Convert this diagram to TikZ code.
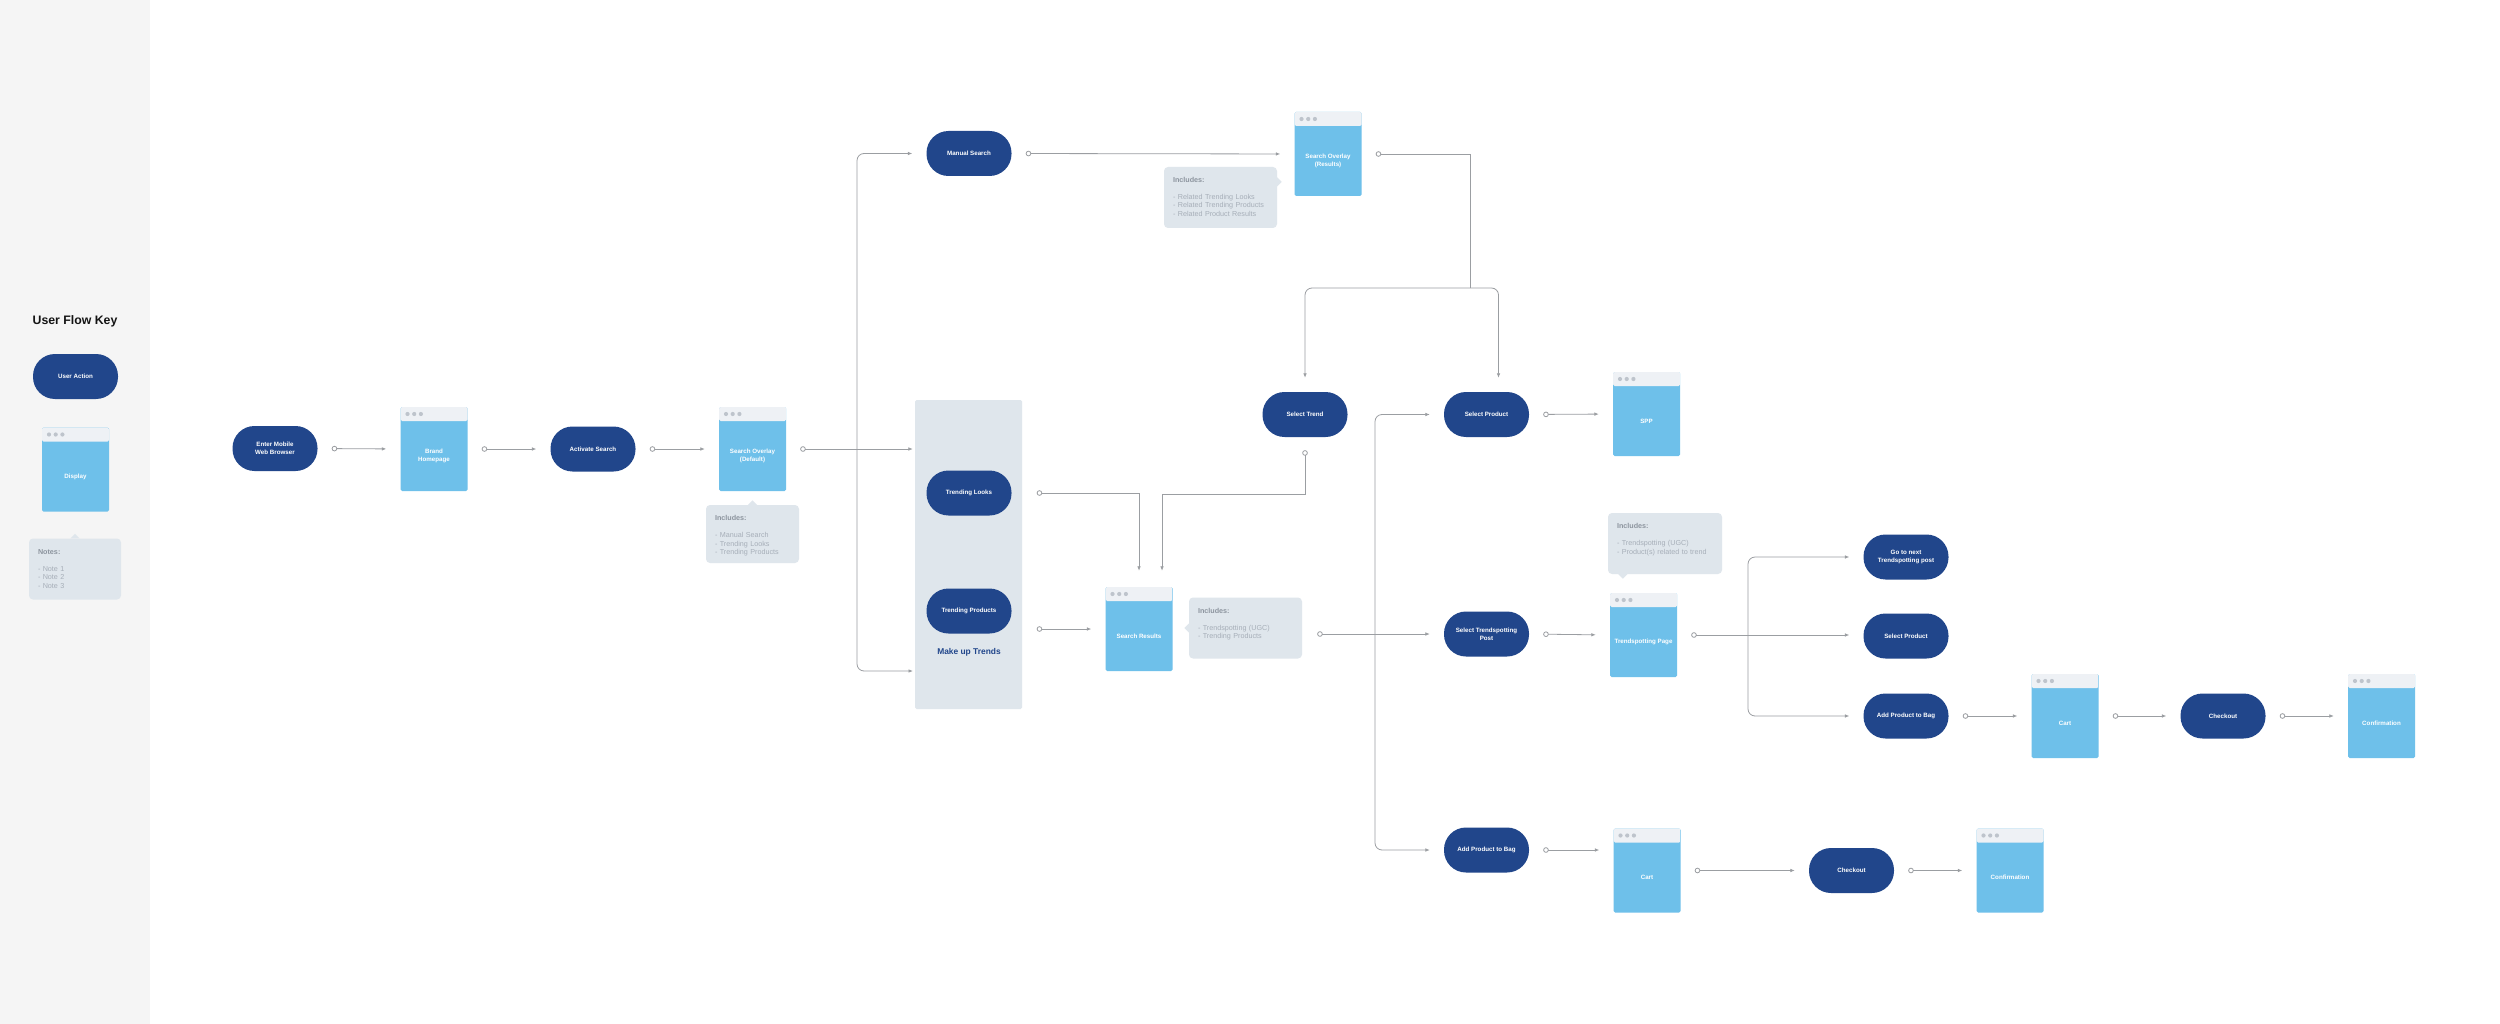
\documentclass[tikz,border=0pt]{standalone}
\usepackage{fontspec}
\setmainfont{Liberation Sans}
\usetikzlibrary{arrows.meta, positioning, calc}
\definecolor{actionblue}{RGB}{33,70,139}
\definecolor{screenblue}{RGB}{110,192,234}
\definecolor{barfill}{RGB}{238,241,245}
\definecolor{dotgray}{RGB}{190,196,204}
\definecolor{notefill}{RGB}{223,230,236}
\definecolor{notetext}{RGB}{166,174,184}
\definecolor{notehead}{RGB}{140,148,158}
\definecolor{wiregray}{RGB}{155,158,162}
\definecolor{keygray}{RGB}{245,245,245}
\definecolor{titleblack}{RGB}{20,20,20}

\begin{document}
\begin{tikzpicture}[x=1pt, y=-1pt,
    action/.style={rectangle, rounded corners=22pt, fill=actionblue, text=white, minimum width=85pt, minimum height=45pt, inner sep=2pt, align=center, font={\fontsize{6.2}{8}\selectfont\bfseries}},
    screen/.style={rectangle, rounded corners=1.5pt, fill=screenblue, minimum width=67pt, minimum height=84pt, inner sep=0pt,
        path picture={\fill[barfill] (path picture bounding box.north west) rectangle ([yshift=-14pt]path picture bounding box.north east);
            \foreach \dx in {7pt,13.7pt,20.4pt} \fill[dotgray] ([xshift=\dx, yshift=-7pt]path picture bounding box.north west) circle[radius=2.1pt];},
        label={[screentext]center:{#1}}},
    screentext/.style={text=white, align=center, yshift=-7pt, inner sep=0pt, font={\fontsize{6.2}{8}\selectfont\bfseries}},
    notebox/.style={rectangle, rounded corners=4pt, fill=notefill, text=notetext, align=left, inner xsep=9pt, inner ysep=4.5pt, text height=11pt, text depth=41pt, font={\fontsize{7.2}{8.5}\selectfont}},
    panel/.style={rectangle, rounded corners=1.5pt, fill=notefill, minimum width=107pt, minimum height=309pt},
    wire/.style={draw=wiregray, line width=0.8pt},
    flow/.style={wire, {Circle[open, length=5.5pt, width=5.5pt]}-{Latex[length=4.5pt, width=3.6pt]}, shorten <=14pt, shorten >=14pt},
    branch/.style={wire, -{Latex[length=4.5pt, width=3.6pt]}, rounded corners=7pt, shorten >=14pt}
]
\fill[white] (0,0) rectangle (2500,1024);
\fill[keygray] (0,0) rectangle (150,1024);
\useasboundingbox (0,0) rectangle (2500,1024);

% key
\node[font={\fontsize{12.3}{14}\selectfont\bfseries}, text=titleblack] (keytitle) at (75,321) {User Flow Key};
\node[action] (keyaction) at (75.5,376.5) {User Action};
\node[screen=Display] (keyscreen) at (75.5,469.5) {};
\node[notebox, text width=74pt] (keynote) at (75,569) {{\color{notehead}\textbf{Notes:}}\\[8.5pt]- Note 1\\- Note 2\\- Note 3};
\fill[notefill] ([xshift=-4.5pt]keynote.north) -- ([yshift=4.5pt]keynote.north) -- ([xshift=4.5pt]keynote.north) -- cycle;

% entry and search
\node[action] (enter) at (275,448.5) {Enter Mobile\\Web Browser};
\node[screen={Brand\\Homepage}] (brand) at (434,449) {};
\node[action] (activate) at (593,449) {Activate Search};
\node[screen={Search Overlay\\(Default)}] (sodefault) at (752.5,449) {};
\node[notebox, text width=75pt, text depth=38pt] (sdnote) at (752.5,534) {{\color{notehead}\textbf{Includes:}}\\[8.5pt]- Manual Search\\- Trending Looks\\- Trending Products};
\fill[notefill] ([xshift=-4.5pt]sdnote.north) -- ([yshift=4.5pt]sdnote.north) -- ([xshift=4.5pt]sdnote.north) -- cycle;

% make up trends
\node[panel] (trends) at (968.5,554.5) {};
\node[action] (manual) at (969,153.5) {Manual Search};
\node[action] (tlooks) at (969,493) {Trending Looks};
\node[action] (tproducts) at (969,611) {Trending Products};
\node[font={\fontsize{8.4}{10}\selectfont\bfseries}, text=actionblue] (trendslabel) at (969,652) {Make up Trends};

\node[screen={Search Overlay\\(Results)}] (soresults) at (1328,154) {};
\node[notebox, text width=95pt] (srnote) at (1220.5,197.5) {{\color{notehead}\textbf{Includes:}}\\[8.5pt]- Related Trending Looks\\- Related Trending Products\\- Related Product Results};
\fill[notefill] ([yshift=-10.5pt]srnote.north east) -- ([xshift=4.5pt, yshift=-15pt]srnote.north east) -- ([yshift=-19.5pt]srnote.north east) -- cycle;

\node[screen={Search Results}] (sresults) at (1139,629) {};
\node[notebox, text width=95pt] (resnote) at (1245.5,628) {{\color{notehead}\textbf{Includes:}}\\[8.5pt]- Trendspotting (UGC)\\- Trending Products};
\fill[notefill] ([yshift=4.5pt]resnote.west) -- ([xshift=-4.5pt]resnote.west) -- ([yshift=-4.5pt]resnote.west) -- cycle;

% selection
\node[action] (seltrend) at (1305,414.5) {Select Trend};
\node[action] (selprod) at (1486.5,414.5) {Select Product};
\node[screen=SPP] (spp) at (1646.5,414) {};
\node[action] (selpost) at (1486.5,634) {Select Trendspotting\\Post};
\node[screen={Trendspotting Page}] (tpage) at (1643.5,635) {};
\node[notebox, text width=96pt] (tpnote) at (1665,543.5) {{\color{notehead}\textbf{Includes:}}\\[8.5pt]- Trendspotting (UGC)\\- Product(s) related to trend};
\fill[notefill] ([xshift=10.5pt]tpnote.south west) -- ([xshift=15pt, yshift=-4.5pt]tpnote.south west) -- ([xshift=19.5pt]tpnote.south west) -- cycle;

\node[action] (nextpost) at (1906,557) {Go to next\\Trendspotting post};
\node[action] (selprod2) at (1906,636) {Select Product};
\node[action] (addbag2) at (1906,716) {Add Product to Bag};
\node[screen=Cart] (cart2) at (2065,716) {};
\node[action] (checkout2) at (2223,716) {Checkout};
\node[screen=Confirmation] (confirm2) at (2381.5,716) {};

\node[action] (addbag) at (1486.5,850) {Add Product to Bag};
\node[screen=Cart] (cart) at (1647,870.5) {};
\node[action] (checkout) at (1851.5,870.5) {Checkout};
\node[screen=Confirmation] (confirm) at (2010,870.5) {};

% connectors
\draw[flow] (enter.east) -- (brand.west);
\draw[flow] (brand.east) -- (activate.west);
\draw[flow] (activate.east) -- (sodefault.west);
\draw[flow, shorten >=2pt] (sodefault.east) -- (sodefault.east -| trends.west);
\coordinate (fork1) at (857,449);
\coordinate (trendsin) at (915,671);
\draw[branch] (fork1) |- (manual.west);
\draw[branch, shorten >=2pt] (fork1) |- (trendsin);

\draw[flow] (manual.east) -- (soresults.west);
\coordinate (split) at (1470,288);
\draw[wire, {Circle[open, length=5.5pt, width=5.5pt]}-, shorten <=14pt] (soresults.east) -| (split);
\draw[branch] (split) -| (seltrend.north);
\draw[branch] (split) -| ([xshift=12pt]selprod.north);

\draw[flow, shorten <=25pt, shorten >=16pt] (tlooks.east) -| (sresults.north);
\draw[flow, shorten <=13pt, shorten >=16pt] (seltrend.south) -- ++(0,57) -| ([xshift=23pt]sresults.north);
\draw[flow, shorten <=25pt] (tproducts.east |- sresults.west) -- (sresults.west);

\draw[flow, shorten <=15pt] (resnote.east |- selpost.west) -- (selpost.west);
\coordinate (fork2) at (1375,634);
\draw[branch] (fork2) |- (selprod.west);
\draw[branch] (fork2) |- (addbag.west);

\draw[flow] (selprod.east) -- (spp.west);
\draw[flow] (selpost.east) -- (tpage.west);
\draw[flow] (tpage.east) -- (tpage.east -| selprod2.west);
\coordinate (fork3) at (1748,635);
\draw[branch] (fork3) |- (nextpost.west);
\draw[branch] (fork3) |- (addbag2.west);

\draw[flow] (addbag2.east) -- (cart2.west);
\draw[flow] (cart2.east) -- (checkout2.west);
\draw[flow] (checkout2.east) -- (confirm2.west);

\draw[flow] (addbag.east) -- (addbag.east -| cart.west);
\draw[flow] (cart.east) -- (checkout.west);
\draw[flow] (checkout.east) -- (confirm.west);
\end{tikzpicture}
\end{document}
